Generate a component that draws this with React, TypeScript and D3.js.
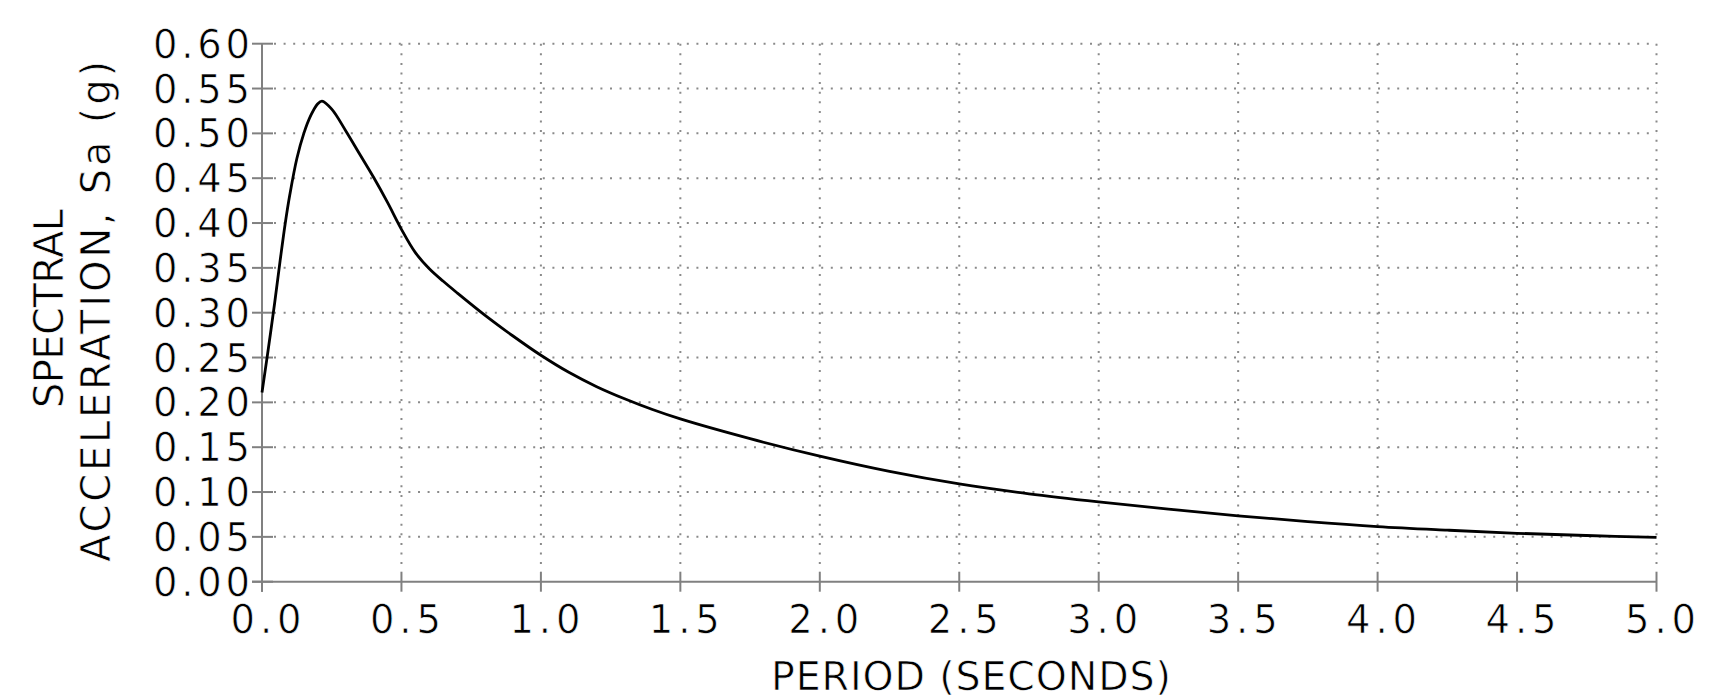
import React from "react";
import * as d3 from "d3";

const periods = [0, 0.02, 0.03, 0.045, 0.065, 0.083, 0.1, 0.125, 0.15, 0.175, 0.2, 0.215, 0.25, 0.3, 0.35, 0.4, 0.45, 0.5, 0.55, 0.6, 0.65, 0.7, 0.8, 0.9, 1.0, 1.1, 1.2, 1.3, 1.4, 1.5, 1.75, 2.0, 2.25, 2.5, 2.75, 3.0, 3.25, 3.5, 3.75, 4.0, 4.25, 4.5, 4.75, 5.0];
const spectralAcc = [0.211, 0.254, 0.276, 0.31, 0.358, 0.399, 0.432, 0.472, 0.5, 0.52, 0.533, 0.536, 0.527, 0.503, 0.477, 0.451, 0.423, 0.393, 0.367, 0.349, 0.335, 0.322, 0.297, 0.274, 0.2525, 0.2335, 0.2175, 0.204, 0.192, 0.1815, 0.1595, 0.14, 0.123, 0.109, 0.098, 0.089, 0.081, 0.0735, 0.067, 0.0615, 0.0575, 0.054, 0.0515, 0.0495];

const xTicks = [0, 0.5, 1.0, 1.5, 2.0, 2.5, 3.0, 3.5, 4.0, 4.5, 5.0];
const yTicks = [0, 0.05, 0.1, 0.15, 0.2, 0.25, 0.3, 0.35, 0.4, 0.45, 0.5, 0.55, 0.6];

const xTitle = "PERIOD (SECONDS)";
const yTitle1 = "SPECTRAL";
const yTitle2 = "ACCELERATION, Sa (g)";

const W = 1732;
const H = 699;
const FONT = "'DejaVu Sans', sans-serif";
const AXIS = "#808080";
const GRID = "#8a8a8a";

const textStyle = {
  fontFamily: FONT,
  fill: "#000",
  stroke: "#fff",
  strokeWidth: 0.7,
};

export default function App() {
  const x = d3.scaleLinear().domain([0, 5]).range([262, 1656.5]);
  const y = d3.scaleLinear().domain([0, 0.6]).range([581.7, 43.7]);
  const line = d3
    .line<number>()
    .x((_, i) => x(periods[i]))
    .y((d) => y(d))
    .curve(d3.curveCatmullRom.alpha(0.5));
  const fx = d3.format(".1f");
  const fy = d3.format(".2f");
  const x0 = x(0);
  const x1 = x(5);
  const y0 = y(0);
  const y1 = y(0.6);

  return (
    <svg
      width={W}
      height={H}
      style={{ position: "absolute", left: 0, top: 0, display: "block", background: "#fff" }}
    >
      {/* horizontal grid */}
      {yTicks.filter((t) => t > 0).map((t) => (
        <line
          key={"hg" + t}
          x1={x0 + 12}
          x2={x1}
          y1={y(t)}
          y2={y(t)}
          stroke={GRID}
          strokeWidth={2}
          strokeDasharray="2 7.6"
        />
      ))}
      {/* vertical grid */}
      {xTicks.filter((t) => t > 0).map((t) => (
        <line
          key={"vg" + t}
          x1={x(t)}
          x2={x(t)}
          y1={y1}
          y2={y0 - 12}
          stroke={GRID}
          strokeWidth={2}
          strokeDasharray="2 7.6"
        />
      ))}
      {/* axes */}
      <line x1={x0} x2={x0} y1={y1} y2={y0 + 10} stroke={AXIS} strokeWidth={2} />
      <line x1={x0 - 10} x2={x1} y1={y0} y2={y0} stroke={AXIS} strokeWidth={2} />
      {yTicks.map((t) => (
        <line key={"yt" + t} x1={x0 - 10} x2={x0 + 11} y1={y(t)} y2={y(t)} stroke={AXIS} strokeWidth={2} />
      ))}
      {xTicks.map((t) => (
        <line key={"xt" + t} x1={x(t)} x2={x(t)} y1={y0 - 10} y2={y0 + 10} stroke={AXIS} strokeWidth={2} />
      ))}
      {/* curve */}
      <path d={line(spectralAcc) || ""} fill="none" stroke="#000" strokeWidth={2.8} strokeLinejoin="round" />
      {/* tick labels */}
      {yTicks.map((t) => (
        <text
          key={"yl" + t}
          x={x0 - 12}
          y={y(t)}
          dy="0.365em"
          textAnchor="end"
          fontSize={38.5}
          textLength={97}
          lengthAdjust="spacing"
          style={textStyle}
        >
          {fy(t)}
        </text>
      ))}
      {xTicks.map((t) => (
        <text
          key={"xl" + t}
          x={x(t) + 4}
          y={633}
          textAnchor="middle"
          fontSize={38.5}
          textLength={71}
          lengthAdjust="spacing"
          style={textStyle}
        >
          {fx(t)}
        </text>
      ))}
      {/* titles */}
      <text
        x={971}
        y={690}
        textAnchor="middle"
        fontSize={39.5}
        textLength={400}
        lengthAdjust="spacing"
        style={textStyle}
      >
        {xTitle}
      </text>
      <text
        transform={`translate(63,308.5) rotate(-90)`}
        textAnchor="middle"
        fontSize={40}
        textLength={199}
        lengthAdjust="spacing"
        style={textStyle}
      >
        {yTitle1}
      </text>
      <text
        transform={`translate(110,311.5) rotate(-90)`}
        textAnchor="middle"
        fontSize={40}
        textLength={501}
        lengthAdjust="spacing"
        style={textStyle}
      >
        {yTitle2}
      </text>
    </svg>
  );
}
